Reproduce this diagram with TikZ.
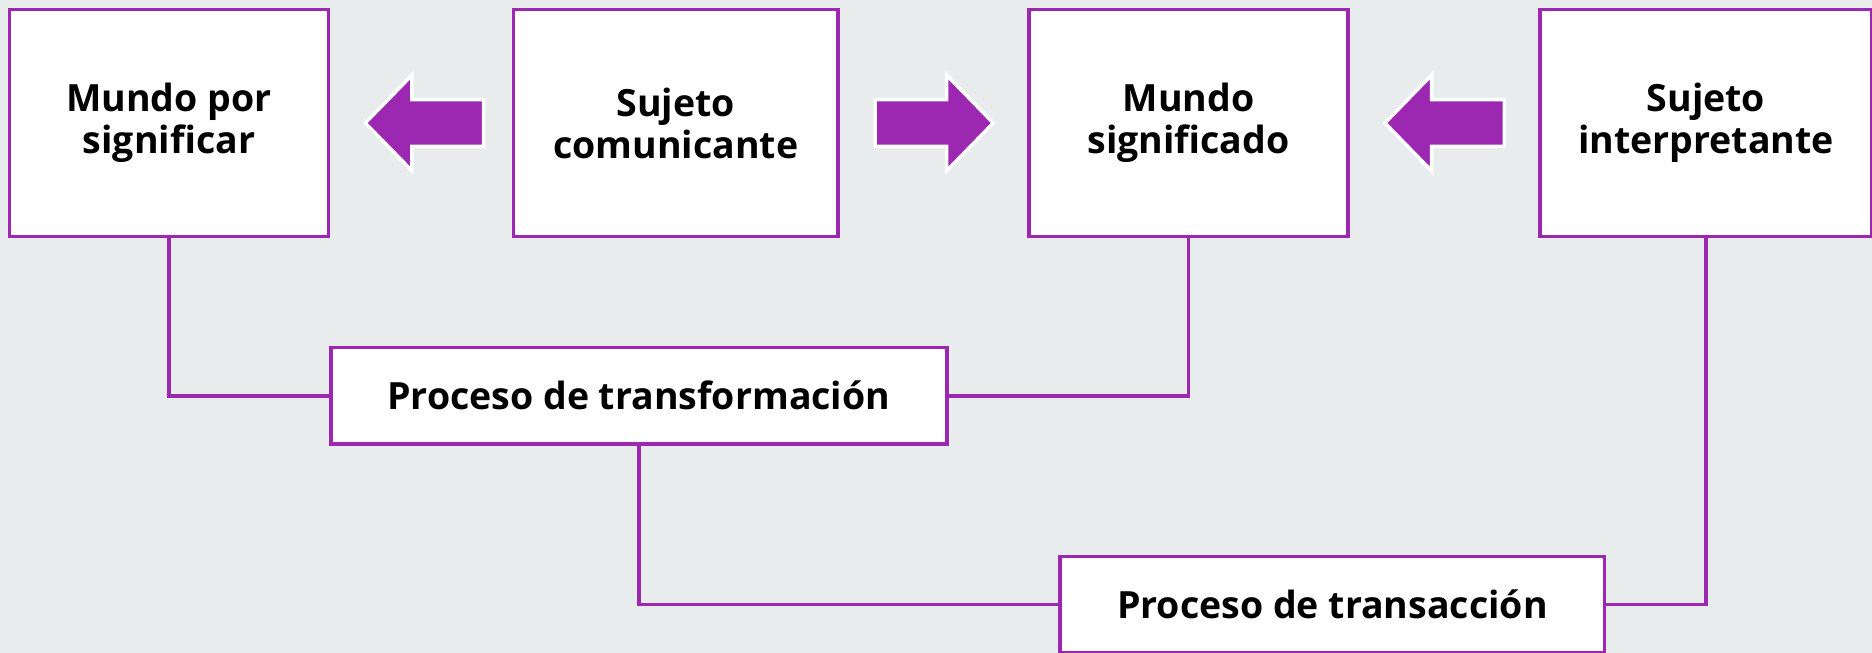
\documentclass[tikz,border=0pt]{standalone}
\usepackage{fontspec}
\setmainfont{Open Sans}
\definecolor{bgc}{RGB}{233,236,237}
\definecolor{purp}{RGB}{156,39,176}
\begin{document}
\begin{tikzpicture}[x=1pt,y=1pt,
  box/.style={draw=purp, line width=3.5pt, fill=white, inner sep=0pt, outer sep=0pt,
    align=center, font=\fontsize{37.5}{42}\selectfont\bfseries, text=black},
  conn/.style={draw=purp, line width=3.5pt},
  bigarrow/.style={fill=purp, draw=white, line width=3.5pt, line join=miter}]
\fill[bgc] (0,0) rectangle (1872,-653);
\useasboundingbox (0,0) rectangle (1872,-653);
% boxes
\node[box, minimum width=318.7pt, minimum height=226.8pt] (b1) at (169,-123) {Mundo por\\significar};
\node[box, minimum width=324.7pt, minimum height=226.8pt] (b2) at (675.75,-123) {Sujeto\\comunicante};
\node[box, minimum width=318.8pt, minimum height=226.8pt] (b3) at (1188.5,-123) {Mundo\\significado};
\node[box, minimum width=332pt, minimum height=226.8pt] (b4) at (1706,-123) {Sujeto\\interpretante};
\node[box, minimum width=616pt, minimum height=96.7pt] (tf) at (638.75,-395.75) {Proceso de transformación};
\node[box, minimum width=544.4pt, minimum height=96.6pt] (tr) at (1332.4,-604.7) {Proceso de transacción};
% connectors
\draw[conn] (b1.south) |- (tf.west);
\draw[conn] (tf.east) -| (b3.south);
\draw[conn] (tf.south) |- (tr.west);
\draw[conn] (tr.east) -| (b4.south);
% block arrows
\draw[bigarrow] (365.3,-123) -- (411.9,-75.2) -- (411.9,-99.7) -- (483.5,-99.7) -- (483.5,-146.3) -- (411.9,-146.3) -- (411.9,-170.8) -- cycle;
\draw[bigarrow] (993.3,-123) -- (946.7,-75.2) -- (946.7,-99.7) -- (875.1,-99.7) -- (875.1,-146.3) -- (946.7,-146.3) -- (946.7,-170.8) -- cycle;
\draw[bigarrow] (1384.9,-123) -- (1431.5,-75.2) -- (1431.5,-99.7) -- (1504.3,-99.7) -- (1504.3,-146.3) -- (1431.5,-146.3) -- (1431.5,-170.8) -- cycle;
\end{tikzpicture}
\end{document}
